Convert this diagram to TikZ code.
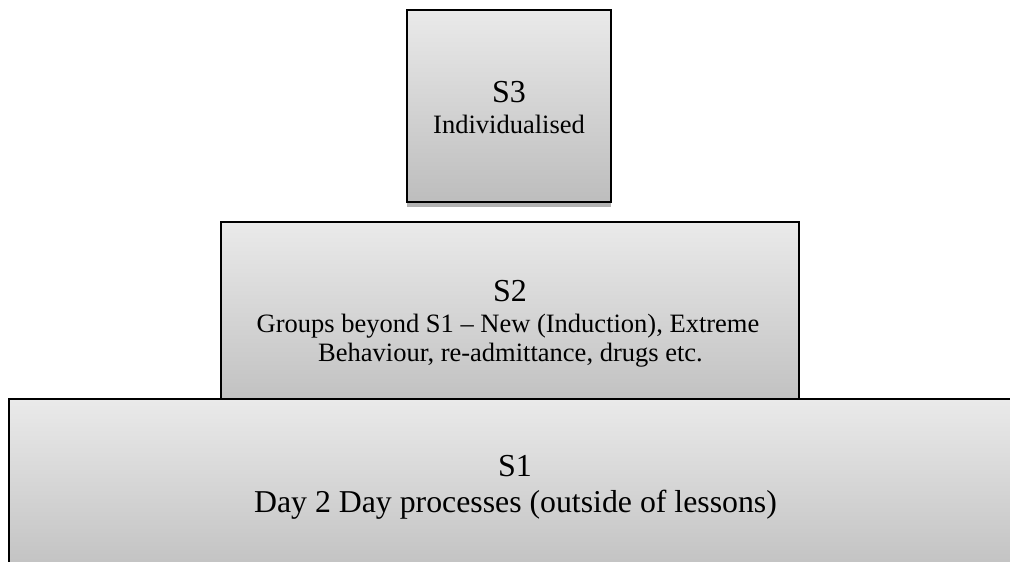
\documentclass[tikz,border=0pt]{standalone}
\usepackage{fontspec}
\setmainfont{Liberation Serif}
\usetikzlibrary{shadows}
\begin{document}
\begin{tikzpicture}[x=1pt,y=-1pt,
  tierbox/.style={draw=black, line width=2.2pt, top color=boxtop, bottom color=boxbot,
    drop shadow={shadow xshift=0pt, shadow yshift=-5pt, opacity=0.3, fill=black}},
  bigtext/.style={anchor=base, inner sep=0pt, font=\fontsize{32}{38}\selectfont},
  smalltext/.style={anchor=base, inner sep=0pt, font=\fontsize{26.5}{31}\selectfont},
  s1text/.style={anchor=base, inner sep=0pt, font=\fontsize{31.8}{38}\selectfont}]
\definecolor{boxtop}{HTML}{EAEAEA}
\definecolor{boxbot}{HTML}{BDBDBD}
\useasboundingbox (0,0) rectangle (1010,562);
\fill[white] (0,0) rectangle (1010,562);
% S3
\path[tierbox] (407,10) rectangle (611,202);
\node[bigtext] (s3a) at (509,102) {S3};
\node[smalltext] (s3b) at (509,133) {Individualised};
% S2
\path[tierbox] (221,222) rectangle (799,420);
\node[bigtext] (s2a) at (510,301) {S2};
\node[smalltext] (s2b) at (508,332) {Groups beyond S1 – New (Induction), Extreme};
\node[smalltext] (s2c) at (510.5,361) {Behaviour, re-admittance, drugs etc.};
% S1
\path[tierbox] (9,399) rectangle (1030,590);
\node[bigtext] (s1a) at (515,476) {S1};
\node[s1text] (s1b) at (515.5,512) {Day 2 Day processes (outside of lessons)};
\end{tikzpicture}
\end{document}
